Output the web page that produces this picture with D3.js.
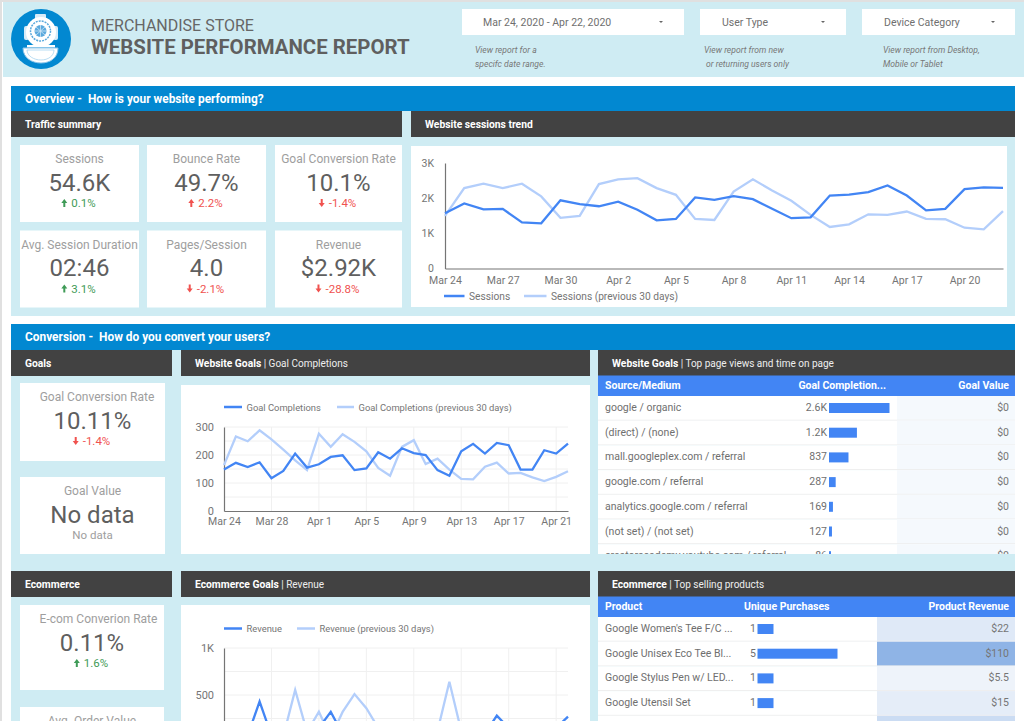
<!DOCTYPE html>
<html>
<head>
<meta charset="utf-8">
<script src="https://cdn.jsdelivr.net/npm/d3@7"></script>
<style>
  html, body { margin: 0; padding: 0; background: #fff; overflow: hidden; }
  svg { display: block; font-family: Roboto, sans-serif; }
  text { white-space: pre; }
  .tick line { display: none; }
</style>
</head>
<body>
<svg id="page" width="1024" height="721"></svg>
<script>
// days on the x axes
const days = ["Mar 24","Mar 25","Mar 26","Mar 27","Mar 28","Mar 29","Mar 30","Mar 31","Apr 1","Apr 2","Apr 3","Apr 4","Apr 5","Apr 6","Apr 7","Apr 8","Apr 9","Apr 10","Apr 11","Apr 12","Apr 13","Apr 14","Apr 15","Apr 16","Apr 17","Apr 18","Apr 19","Apr 20","Apr 21","Apr 22"];

const sessions = [1570,1850,1680,1695,1310,1285,1940,1830,1770,1900,1670,1370,1410,2020,1950,2055,1970,1700,1430,1455,2075,2100,2170,2360,2075,1655,1695,2255,2305,2295];
const sessionsPrev = [1495,2285,2410,2285,2410,2050,1440,1495,2400,2535,2570,2285,2095,1410,1380,2190,2535,2220,1925,1525,1180,1255,1540,1525,1620,1410,1400,1160,1115,1630];

const goals = [148,172,157,174,117,143,205,155,167,193,199,146,152,210,187,224,207,200,146,126,213,240,205,243,235,148,148,217,205,241];
const goalsPrev = [164,266,249,288,256,219,181,146,276,229,274,247,213,154,126,229,253,168,187,148,115,113,158,173,134,136,120,107,122,142];

const revenue = [60,120,70,430,70,110,90,40,150,320,85,120,60,90,50,130,70,100,60,130,80,110,90,280,150,60,110,50,150,270];
const revenuePrev = [90,60,130,80,100,60,553,106,322,50,320,510,360,150,90,60,120,80,117,640,117,70,100,60,130,90,50,110,70,120];

const trafficLabels = ["Sessions","Bounce Rate","Goal Conversion Rate","Avg. Session Duration","Pages/Session","Revenue"];
const trafficValues = ["54.6K","49.7%","10.1%","02:46","4.0","$2.92K"];
const trafficDeltas = ["0.1%","2.2%","-1.4%","3.1%","-2.1%","-28.8%"];
const trafficGood = [true,false,false,true,false,false];

const sources = ["google / organic","(direct) / (none)","mall.googleplex.com / referral","google.com / referral","analytics.google.com / referral","(not set) / (not set)","creatoracademy.youtube.com / referral"];
const sourceGoals = [2600,1200,837,287,169,127,86];
const sourceValues = [0,0,0,0,0,0,0];

const products = ["Google Women's Tee F/C ...","Google Unisex Eco Tee Bl...","Google Stylus Pen w/ LED...","Google Utensil Set",""];
const productPurchases = [1,5,1,1,0];
const productRevenue = [22,110,5.5,15,44];

const BLUE = "#4285f4", PALE = "#b3cefb", PANEL = "#cfecf3", GREY = "#757575";

const svg = d3.select("#page");
const rect = (x, y, w, h, fill, parent = svg) =>
  parent.append("rect").attr("x", x).attr("y", y).attr("width", w).attr("height", h).attr("fill", fill);
const label = (x, y, str, size, fill, anchor = "start", weight = 400, parent = svg) =>
  parent.append("text").attr("x", x).attr("y", y).attr("font-size", size).attr("fill", fill)
    .attr("text-anchor", anchor).attr("font-weight", weight).text(str);

// page frame
rect(0, 0, 1024, 721, "#fff");
rect(0, 0, 2, 721, "#e0e0e0");
rect(0, 0, 1024, 2, "#e0e0e0");
rect(3, 2, 1021, 75, PANEL);

// helmet logo
const logo = svg.append("g");
logo.append("circle").attr("cx", 41).attr("cy", 39).attr("r", 30).attr("fill", "#0288d1");
logo.append("rect").attr("x", 35).attr("y", 14).attr("width", 11).attr("height", 5).attr("rx", 1).attr("fill", "#d7ebf8");
logo.append("rect").attr("x", 24).attr("y", 26).attr("width", 5).attr("height", 14).attr("rx", 2).attr("fill", "#d7ebf8");
logo.append("rect").attr("x", 53).attr("y", 26).attr("width", 5).attr("height", 14).attr("rx", 2).attr("fill", "#d7ebf8");
logo.append("circle").attr("cx", 41).attr("cy", 32).attr("r", 15).attr("fill", "#fff");
logo.append("circle").attr("cx", 40.5, ).attr("cy", 31).attr("r", 10).attr("fill", "#fff").attr("stroke", "#5aa9dd").attr("stroke-width", 1.5).attr("stroke-dasharray", "2 1");
logo.append("circle").attr("cx", 40.5).attr("cy", 31).attr("r", 6).attr("fill", "#5aa9dd");
logo.append("path").attr("d", "M36,27L45,35M45,27L36,35M40.5,25V37M34.5,31H46.5").attr("stroke", "#cfe6f6").attr("stroke-width", 0.8);
logo.append("rect").attr("x", 27).attr("y", 45).attr("width", 28).attr("height", 2.5).attr("fill", "#fff");
logo.append("path").attr("d", "M23,48H58C58,58 50,63 41,63C32,63 23,58 23,48Z").attr("fill", "#fff").attr("stroke", "#8cc5ea");
logo.append("path").attr("d", "M27,50H54C54,56 48,60 41,60C34,60 27,56 27,50Z").attr("fill", "#fff").attr("stroke", "#a8d4f0").attr("stroke-width", 0.8);

// report title
label(91, 31, "MERCHANDISE STORE", 16, "#666");
label(91, 54, "WEBSITE PERFORMANCE REPORT", 20.4, "#5f5f5f", "start", 700);

// filter boxes
const filterBox = (x, w, textX, str, caretX) => {
  rect(x, 9, w, 26, "#fff");
  label(textX, 25.5, str, 10.5, "#6f6f6f");
  svg.append("path").attr("d", `M${caretX - 2},21L${caretX + 2},21L${caretX},23Z`).attr("fill", "#666");
};
filterBox(462, 222, 483, "Mar 24, 2020 - Apr 22, 2020", 661);
filterBox(700, 146, 722, "User Type", 823);
filterBox(862, 153, 884, "Device Category", 993);
const note = (x, y, str) => label(x, y, str, 8.6, "#777").attr("font-style", "italic");
note(475, 53, "View report for a");
note(475, 67, "specifc date range.");
note(704, 53, "View report from new");
note(706, 67, "or returning users only");
note(883, 53, "View report from Desktop,");
note(883, 67, "Mobile or Tablet");

// section backgrounds
rect(11, 86, 1004, 25, "#0288d1");
label(25, 103, "Overview -  How is your website performing?", 11.9, "#fff", "start", 700);
rect(11, 137, 1004, 179, PANEL);
rect(11, 324, 1004, 26, "#0288d1");
label(25, 341, "Conversion -  How do you convert your users?", 11.9, "#fff", "start", 700);
rect(11, 376, 1004, 345, PANEL);
rect(11, 111, 1004, 26, PANEL);
rect(11, 350, 1004, 26, PANEL);
rect(11, 571, 1004, 26, PANEL);

const heading = (x, y, w, bold, rest) => {
  rect(x, y, w, 26, "#424242");
  const t = label(x + 14, y + 17, bold, 10.3, "#fff", "start", 700);
  if (rest) t.append("tspan").attr("font-weight", 400).attr("font-size", 10).attr("fill", "#eee").text(rest);
};
heading(11, 111, 391, "Traffic summary");
heading(411, 111, 604, "Website sessions trend");
heading(11, 350, 161, "Goals");
heading(181, 350, 409, "Website Goals", " | Goal Completions");
heading(598, 350, 417, "Website Goals", " | Top page views and time on page");
heading(11, 571, 161, "Ecommerce");
heading(181, 571, 409, "Ecommerce Goals", " | Revenue");
heading(598, 571, 417, "Ecommerce", " | Top selling products");

// scorecards
function arrow(x, y, up, fill) {
  const s = up ? 1 : -1;
  svg.append("path").attr("fill", fill)
    .attr("d", `M${x},${y - 4 * s}L${x + 3},${y}L${x + 1},${y}L${x + 1},${y + 4 * s}L${x - 1},${y + 4 * s}L${x - 1},${y}L${x - 3},${y}Z`);
}
function scorecard(x, y, w, h, name, value, delta, good, nameX) {
  const cx = x + w / 2;
  rect(x, y, w, h, "#fff");
  label(nameX === undefined ? cx : nameX, y + 18, name, 12, "#9e9e9e", "middle");
  label(cx, y + 45.5, value, 24, "#5f5f5f", "middle");
  if (delta === null) return;
  const fill = good ? "#3f9b57" : "#f0524f";
  const t = label(cx + 4, y + 62, delta, 11.5, fill, "middle");
  const len = t.node().getComputedTextLength();
  arrow(cx + 4 - len / 2 - 7, y + 58, !delta.startsWith("-"), fill);
}
const cardX = [20, 147, 275], cardW = [119, 119, 127], cardY = [145, 230.5];
trafficLabels.forEach((name, i) => {
  const col = i % 3, row = Math.floor(i / 3);
  scorecard(cardX[col], cardY[row], cardW[col], 77, name, trafficValues[i], trafficDeltas[i], trafficGood[i]);
});
scorecard(20, 383, 145, 78, "Goal Conversion Rate", "10.11%", "-1.4%", false, 97);
scorecard(20, 477, 145, 77, "Goal Value", "No data", null);
label(92.5, 539, "No data", 11.5, "#9e9e9e", "middle");
scorecard(20, 605, 144, 85, "E-com Converion Rate", "0.11%", "1.6%", true, 98.5);
scorecard(20, 707, 144, 60, "Avg. Order Value", "", null);

// line charts
function lineChart(opts) {
  const { box, xRange, yRange, yMax, yTicks, yGrid, xEvery, current, previous, gridX, fontX, fontY, padX, padY } = opts;
  rect(box[0], box[1], box[2], box[3], "#fff");
  const x = d3.scalePoint().domain(days).range(xRange);
  const y = d3.scaleLinear().domain([0, yMax]).range(yRange);
  const xTicks = days.filter((d, i) => i % xEvery === 0);
  const fmt = d => d >= 1000 ? d / 1000 + "K" : d;

  const g = svg.append("g");
  if (yGrid) {
    g.selectAll(".gy").data(yGrid).enter().append("line").attr("class", "gy")
      .attr("x1", xRange[0]).attr("x2", xRange[1]).attr("y1", d => y(d)).attr("y2", d => y(d))
      .attr("stroke", "#f0f0f0").attr("stroke-width", 1);
  }
  if (gridX) {
    g.selectAll(".gx").data(xTicks.slice(1)).enter().append("line").attr("class", "gx")
      .attr("x1", d => x(d)).attr("x2", d => x(d)).attr("y1", yRange[0]).attr("y2", yRange[1])
      .attr("stroke", "#f0f0f0").attr("stroke-width", 1);
  }
  const axisX = g.append("g").attr("transform", `translate(0,${yRange[0]})`)
    .call(d3.axisBottom(x).tickValues(xTicks).tickSize(0).tickPadding(padX));
  axisX.selectAll("text").attr("font-size", fontX).attr("fill", GREY).attr("font-family", "Roboto");
  axisX.select(".domain").attr("stroke", "#757575").attr("stroke-width", 1.2);
  const axisY = g.append("g").attr("transform", `translate(${xRange[0]},0)`)
    .call(d3.axisLeft(y).tickValues(yTicks).tickFormat(fmt).tickSize(0).tickPadding(padY));
  axisY.selectAll("text").attr("font-size", fontY).attr("fill", GREY).attr("font-family", "Roboto");
  axisY.select(".domain").attr("stroke", "#757575").attr("stroke-width", 1.2);

  const line = d3.line().x((d, i) => x(days[i])).y(d => y(d));
  g.append("path").datum(previous).attr("d", line).attr("fill", "none").attr("stroke", PALE).attr("stroke-width", 2.3);
  g.append("path").datum(current).attr("d", line).attr("fill", "none").attr("stroke", BLUE).attr("stroke-width", 2.3);
}
function legendItem(x1, x2, y, color, str, size) {
  svg.append("line").attr("x1", x1).attr("x2", x2).attr("y1", y).attr("y2", y).attr("stroke", color).attr("stroke-width", 2.5);
  label(x2 + 4.5, y + 3.6, str, size, GREY);
}

lineChart({ box: [411, 146, 596, 161], xRange: [445, 1003], yRange: [268.5, 163], yMax: 3000,
  yTicks: [0, 1000, 2000, 3000], xEvery: 3, current: sessions, previous: sessionsPrev, fontX: 10.5, fontY: 10.5, padX: 8, padY: 11 });
legendItem(444, 464.5, 296, BLUE, "Sessions", 10.2);
legendItem(524, 546.5, 296, PALE, "Sessions (previous 30 days)", 10.2);

lineChart({ box: [181, 385, 409, 169], xRange: [224, 568], yRange: [511, 427], yMax: 300,
  yTicks: [0, 100, 200, 300], yGrid: [50, 100, 150, 200, 250, 300], gridX: true, xEvery: 4,
  current: goals, previous: goalsPrev, fontX: 10.5, fontY: 11, padX: 7, padY: 10 });
legendItem(224, 242, 407, BLUE, "Goal Completions", 9.4);
legendItem(337, 354, 407, PALE, "Goal Completions (previous 30 days)", 9.4);

lineChart({ box: [181, 605, 409, 116], xRange: [224, 568], yRange: [742, 648], yMax: 1000,
  yTicks: [0, 500, 1000], yGrid: [250, 500, 750, 1000], gridX: true, xEvery: 4,
  current: revenue, previous: revenuePrev, fontX: 10.5, fontY: 11, padX: 7, padY: 10 });
legendItem(224, 242, 628.5, BLUE, "Revenue", 9.4);
legendItem(297, 315, 628.5, PALE, "Revenue (previous 30 days)", 9.4);

// tables
function table(opts) {
  const { top, clipBottom, columns, names, bars, barMax, barX, barW, valueX, cells, cellX, cellFill, fmtBar, fmtCell } = opts;
  rect(598, top, 417, 20.5, BLUE);
  label(605, top + 13.5, columns[0], 10.5, "#fff", "start", 700);
  label(columns[3], top + 13.5, columns[1], 10.5, "#fff", columns[4], 700);
  label(1009, top + 13.5, columns[2], 10.5, "#fff", "end", 700);

  const clipId = "clip" + Math.round(top);
  svg.append("clipPath").attr("id", clipId).append("rect").attr("x", 598).attr("y", top).attr("width", 417).attr("height", clipBottom - top);
  const body = svg.append("g").attr("clip-path", `url(#${clipId})`);
  const rowH = 24.7, first = top + 20.5;
  const w = d3.scaleLinear().domain([0, barMax]).range([0, barW]);
  const row = body.selectAll(".row").data(names).enter().append("g").attr("class", "row")
    .attr("transform", (d, i) => `translate(0,${first + i * rowH})`);
  row.append("rect").attr("x", 598).attr("width", 417).attr("height", rowH).attr("fill", "#fff");
  row.append("rect").attr("x", cellX).attr("width", 1015 - cellX).attr("height", rowH).attr("fill", (d, i) => cellFill(cells[i]));
  row.append("line").attr("x1", 598).attr("x2", 1015).attr("y1", rowH - 0.5).attr("y2", rowH - 0.5).attr("stroke", "#eeeeee").attr("stroke-width", 1);
  row.append("text").attr("x", 605).attr("y", 15).attr("font-size", 10.5).attr("fill", "#6f6f6f").text(d => d);
  row.append("text").attr("x", valueX).attr("y", 15).attr("font-size", 10.5).attr("fill", "#6f6f6f").attr("text-anchor", "end").text((d, i) => fmtBar(bars[i]));
  row.append("rect").attr("x", barX).attr("y", 7).attr("height", 10).attr("width", (d, i) => w(bars[i])).attr("fill", BLUE);
  row.append("text").attr("x", 1009).attr("y", 15).attr("font-size", 10.5).attr("fill", "#757575").attr("text-anchor", "end").text((d, i) => fmtCell(cells[i]));
}

table({ top: 375.5, clipBottom: 554, columns: ["Source/Medium", "Goal Completion...", "Goal Value", 886, "end"],
  names: sources, bars: sourceGoals, barMax: 2600, barX: 829, barW: 60.5, valueX: 827,
  cells: sourceValues, cellX: 897, cellFill: () => "#f5f9fd",
  fmtBar: d => d >= 1000 ? (d / 1000).toFixed(1) + "K" : d, fmtCell: d => "$" + d });

const heat = d3.scaleLinear().domain([0, 110]).range(["#f3f6fb", "#8fb4e6"]);
table({ top: 596.5, clipBottom: 721, columns: ["Product", "Unique Purchases", "Product Revenue", 744, "start"],
  names: products, bars: productPurchases, barMax: 5, barX: 757.5, barW: 80, valueX: 756,
  cells: productRevenue, cellX: 877, cellFill: heat,
  fmtBar: d => d, fmtCell: d => "$" + d });
</script>
</body>
</html>
